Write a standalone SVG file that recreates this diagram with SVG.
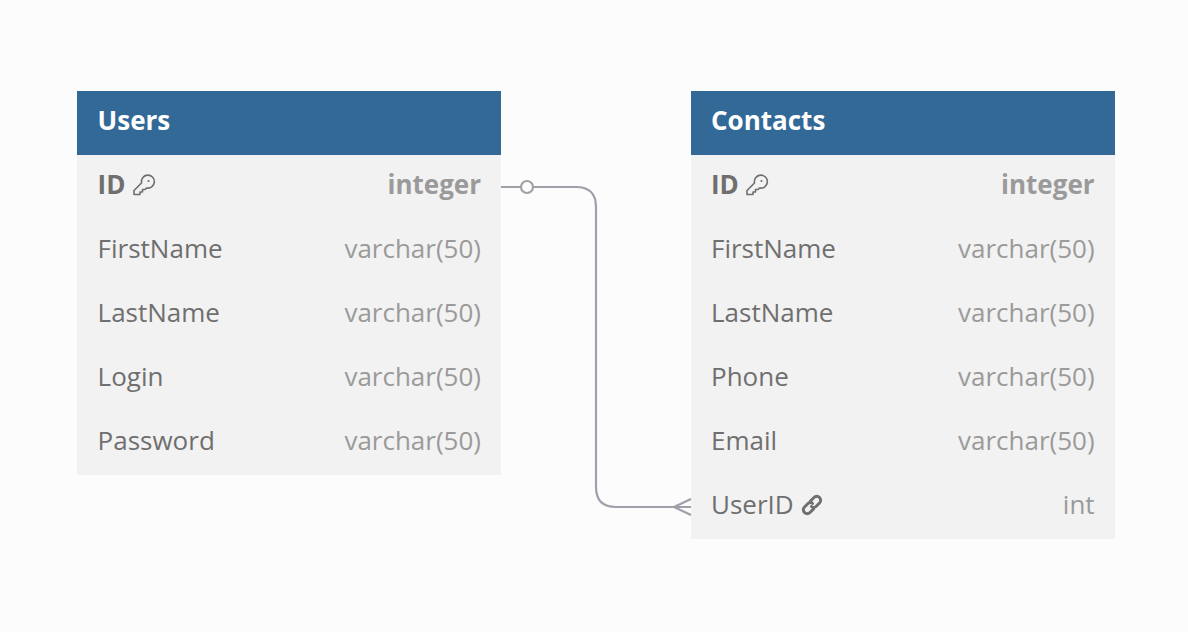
<svg xmlns="http://www.w3.org/2000/svg" width="1188" height="632" viewBox="0 0 1188 632">
<style>
text{font-family:"Open Sans","Noto Sans",sans-serif;font-size:26px}
.hd{fill:#336997}.bd{fill:#f2f2f2}
.t{fill:#fff;font-weight:700}
.n{fill:#6f6f6f}.y{fill:#9a9a9a;text-anchor:end}.b{font-weight:700}
.ic{fill:none;stroke:#6f6f6f;stroke-width:1.6;stroke-linejoin:round;stroke-linecap:round}
.lk{stroke-width:3}
.c{fill:none;stroke:#a0a0aa;stroke-width:2.2}
.o{fill:#fcfcfc}
</style>
<defs>
<g id="key"><path class="ic" d="M-10 9.5V5.5L-2.5 -2A6.5 6.5 0 1 1 2.5 3L1 4.5H-1.5V7H-4V9.5Z"/><circle cx="4.5" cy="-4" r="1.1" fill="#6f6f6f"/></g>
<g id="link"><path class="ic lk" d="M-1.5 -4L2 -7.5A3.4 3.4 0 0 1 7.5 -2L4 1.5A3.4 3.4 0 0 1 -.5 1.5M1.5 4L-2 7.5A3.4 3.4 0 0 1 -7.5 2L-4 -1.5A3.4 3.4 0 0 1 .5 -1.5"/></g>
</defs>
<rect width="1188" height="632" fill="#fcfcfc"/>
<g id="users">
<rect class="bd" x="77" y="155" width="424" height="320"/>
<rect class="hd" x="77" y="91" width="424" height="64"/>
<text class="t" x="97.6" y="130">Users</text>
<text class="n b" x="97.6" y="194">ID</text><use href="#key" x="144" y="185"/><text class="y b" x="481" y="194">integer</text>
<text class="n" x="97.6" y="258">FirstName</text><text class="y" x="481" y="258">varchar(50)</text>
<text class="n" x="97.6" y="322">LastName</text><text class="y" x="481" y="322">varchar(50)</text>
<text class="n" x="97.6" y="386">Login</text><text class="y" x="481" y="386">varchar(50)</text>
<text class="n" x="97.6" y="450">Password</text><text class="y" x="481" y="450">varchar(50)</text>
</g>
<g id="contacts">
<rect class="bd" x="691" y="155" width="424" height="384"/>
<rect class="hd" x="691" y="91" width="424" height="64"/>
<text class="t" x="711" y="130">Contacts</text>
<text class="n b" x="711" y="194">ID</text><use href="#key" x="757" y="185"/><text class="y b" x="1094.6" y="194">integer</text>
<text class="n" x="711" y="258">FirstName</text><text class="y" x="1094.6" y="258">varchar(50)</text>
<text class="n" x="711" y="322">LastName</text><text class="y" x="1094.6" y="322">varchar(50)</text>
<text class="n" x="711" y="386">Phone</text><text class="y" x="1094.6" y="386">varchar(50)</text>
<text class="n" x="711" y="450">Email</text><text class="y" x="1094.6" y="450">varchar(50)</text>
<text class="n" x="711" y="514">UserID</text><use href="#link" x="812" y="505"/><text class="y" x="1094.6" y="514">int</text>
</g>
<g id="connectors">
<path class="c" d="M501 187H576Q596 187 596 207V487Q596 507 616 507H691"/>
<circle class="c o" cx="527" cy="187" r="6"/>
<path class="c" d="M691 499L674 507L691 515"/>
</g>
</svg>
